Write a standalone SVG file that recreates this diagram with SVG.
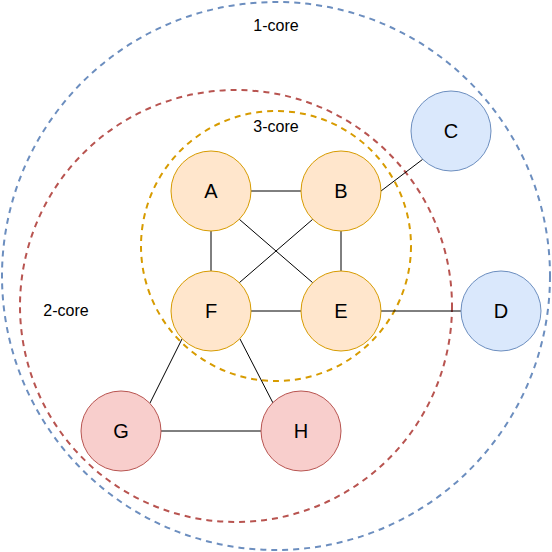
<svg xmlns="http://www.w3.org/2000/svg" width="552" height="552" viewBox="0 0 552 552">
<style>
.ring{fill:none;stroke-width:2;stroke-dasharray:6 5}
.edge{stroke:#000;stroke-width:1;fill:none}
.lbl{font-family:"Liberation Sans",Arial,sans-serif;font-size:16px;fill:#000;text-anchor:middle}
.nl{font-family:"Liberation Sans",Arial,sans-serif;font-size:20px;fill:#000;text-anchor:middle}
.o{fill:#ffe6cc;stroke:#d79b00}
.b{fill:#dae8fc;stroke:#6c8ebf}
.r{fill:#f8cecc;stroke:#b85450}
</style>
<rect width="552" height="552" fill="#fff"/>
<g id="rings">
<circle class="ring" cx="276" cy="276" r="274" stroke="#6c8ebf"/>
<circle class="ring" cx="236" cy="306" r="216" stroke="#b85450"/>
<circle class="ring" cx="276" cy="246" r="135" stroke="#d79b00"/>
</g>
<g id="ring-labels">
<text class="lbl" x="276" y="31">1-core</text>
<text class="lbl" x="276" y="132">3-core</text>
<text class="lbl" x="66" y="316">2-core</text>
</g>
<g id="connectors">
<line class="edge" x1="251" y1="191" x2="301" y2="191"/>
<line class="edge" x1="211" y1="231" x2="211" y2="271"/>
<line class="edge" x1="341" y1="231" x2="341" y2="271"/>
<line class="edge" x1="251" y1="311" x2="301" y2="311"/>
<line class="edge" x1="239.3" y1="219.3" x2="312.7" y2="282.7"/>
<line class="edge" x1="312.7" y1="219.3" x2="239.3" y2="282.7"/>
<line class="edge" x1="381" y1="191" x2="422.7" y2="159.3"/>
<line class="edge" x1="381" y1="311" x2="461" y2="311"/>
<line class="edge" x1="182" y1="339" x2="150" y2="403"/>
<line class="edge" x1="240" y1="339" x2="273" y2="403"/>
<line class="edge" x1="161" y1="431" x2="261" y2="431"/>
</g>
<g id="node-A"><circle class="o" cx="211" cy="191" r="40"/><text class="nl" x="211" y="198">A</text></g>
<g id="node-B"><circle class="o" cx="341" cy="191" r="40"/><text class="nl" x="341" y="198">B</text></g>
<g id="node-F"><circle class="o" cx="211" cy="311" r="40"/><text class="nl" x="211" y="318">F</text></g>
<g id="node-E"><circle class="o" cx="341" cy="311" r="40"/><text class="nl" x="341" y="318">E</text></g>
<g id="node-C"><circle class="b" cx="451" cy="131" r="40"/><text class="nl" x="451" y="138">C</text></g>
<g id="node-D"><circle class="b" cx="501" cy="311" r="40"/><text class="nl" x="501" y="318">D</text></g>
<g id="node-G"><circle class="r" cx="121" cy="431" r="40"/><text class="nl" x="121" y="438">G</text></g>
<g id="node-H"><circle class="r" cx="301" cy="431" r="40"/><text class="nl" x="301" y="438">H</text></g>
</svg>
